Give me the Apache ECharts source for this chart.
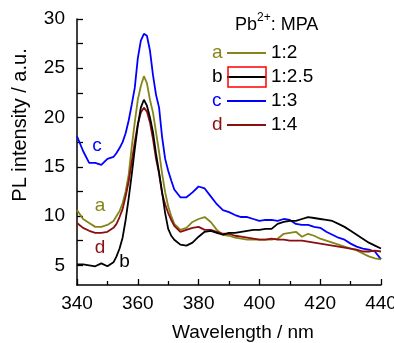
<!DOCTYPE html>
<html><head><meta charset="utf-8">
<script src="https://cdn.jsdelivr.net/npm/echarts@6/dist/echarts.min.js"></script>
<style>html,body{margin:0;padding:0;background:#fff}#c{width:394px;height:343px}</style>
</head><body><div id="c"></div>
<script>
const wavelength = [340,342,344,346,348,350,352,
  353,354,355,356,357,358,359,360,361,362,363,364,365,366,367,368,369,370,371,
  372,374,376,378,380,382,384,386,388,390,392,394,396,398,400,402,404,406,408,410,412,414,416,418,420,422,424,426,428,430,432,434,436,438,440];
const seriesA = [10.6,9.7,9.3,8.9,8.9,9.1,9.5,
  10.0,10.5,11.3,12.5,14.2,17.0,19.5,21.8,23.2,24.2,23.5,21.8,20.5,18.5,16.5,14.3,12.4,11.0,10.0,
  9.2,8.6,8.8,9.4,9.7,9.9,9.4,8.6,8.1,8.0,7.8,7.7,7.6,7.6,7.6,7.6,7.6,7.7,8.2,8.3,8.4,7.9,8.2,8.0,7.7,7.5,7.3,7.1,6.9,6.7,6.5,6.2,5.9,5.7,5.6];
const seriesB = [5.1,5.1,5.0,4.9,5.2,4.9,5.3,
  5.9,6.7,7.8,9.6,11.8,14.2,16.8,19.2,21.0,21.8,21.2,20.0,18.5,16.3,14.4,12.4,10.3,8.7,8.0,
  7.6,7.1,7.0,7.3,7.9,8.4,8.5,8.3,8.1,8.3,8.3,8.4,8.5,8.6,8.6,8.7,8.7,9.2,9.4,9.5,9.5,9.7,9.9,9.8,9.7,9.6,9.5,9.2,8.9,8.5,8.1,7.7,7.3,7.0,6.7];
const seriesC = [18.1,16.6,15.4,15.4,15.2,15.8,16.0,
  16.4,16.9,17.5,18.4,19.7,21.3,23.0,26.0,27.8,28.5,28.3,26.8,24.3,22.3,21.0,18.0,15.8,14.6,13.6,
  12.7,11.9,11.9,12.4,13.0,12.8,12.0,11.2,10.6,10.4,10.1,9.9,9.9,9.7,9.5,9.6,9.6,9.5,9.7,9.6,9.2,9.1,9.1,8.9,8.8,8.4,8.1,7.8,7.6,7.2,6.9,6.7,6.6,6.4,5.6];
const seriesD = [9.3,8.8,8.5,8.3,8.3,8.4,8.8,
  9.2,9.9,10.7,12.0,13.5,15.5,17.5,19.3,20.5,21.0,20.6,19.5,17.8,15.8,14.3,12.3,11.2,10.3,9.6,
  9.0,8.4,8.6,8.8,8.9,8.6,8.6,8.4,8.2,8.2,8.0,7.9,7.8,7.7,7.6,7.6,7.7,7.6,7.6,7.5,7.5,7.5,7.4,7.3,7.2,7.1,7.0,6.9,6.8,6.7,6.6,6.4,6.4,6.5,6.4];
const yTickLabels = [5,10,15,20,25,30];
const yTicks = [5,7.5,10,12.5,15,17.5,20,22.5,25,27.5,30];
const legendLetters = ['a','b','c','d'];
const legendRatios = ['1:2','1:2.5','1:3','1:4'];
const colors = ['#85851a','#000000','#0000ff','#8b0f0f'];
const allSeries = [seriesA, seriesB, seriesC, seriesD];
// annotation letter anchors (data coords)
const annot = [['a',347.6,11.0],['b',355.6,5.4],['c',346.6,17.1],['d',347.6,6.8]];

const FONT = 'Liberation Sans, Arial, sans-serif';
const chart = echarts.init(document.getElementById('c'));
const pair = s => wavelength.map((w,i)=>[w,s[i]]);
const drawOrder = [2,0,3,1];
const option = {
  animation:false,
  grid:{left:77,right:13,top:19,bottom:58,containLabel:false,outerBoundsMode:'none'},
  xAxis:{type:'value',min:340,max:440,interval:20,
    axisLine:{onZero:false,lineStyle:{color:'#000',width:1.5}},
    axisTick:{inside:true,length:6,lineStyle:{color:'#000',width:1.3}},
    minorTick:{show:true,splitNumber:2,length:4,lineStyle:{color:'#000',width:1.3}},
    splitLine:{show:false},
    axisLabel:{color:'#000',fontSize:19,fontFamily:FONT,margin:9}},
  yAxis:{type:'value',min:3,max:30,
    axisLine:{show:true,lineStyle:{color:'#000',width:1.5}},
    axisTick:{show:true,inside:true,length:6,customValues:yTicks,lineStyle:{color:'#000',width:1.3}},
    splitLine:{show:false},
    axisLabel:{color:'#000',fontSize:19,fontFamily:FONT,margin:12,customValues:yTickLabels}},
  series: drawOrder.map(i=>({type:'line',data:pair(allSeries[i]),showSymbol:false,
    lineStyle:{color:colors[i],width:1.8},itemStyle:{color:colors[i]},z:2+drawOrder.indexOf(i)})),
  graphic:[]
};
chart.setOption(option);

const g = [];
g.push({type:'text',x:20,y:125,rotation:Math.PI/2,style:{text:'PL intensity / a.u.',font:'20px '+FONT,fill:'#000',align:'center',verticalAlign:'middle'}});
g.push({type:'text',x:243,y:333,style:{text:'Wavelength / nm',font:'19px '+FONT,fill:'#000',align:'center',verticalAlign:'middle'}});
g.push({type:'text',x:235,y:34,style:{text:'{m|Pb}{s|2+}{m|: MPA}',verticalAlign:'bottom',
  rich:{m:{fontSize:18,fontFamily:FONT,fill:'#000',verticalAlign:'bottom',lineHeight:22},
        s:{fontSize:12,fontFamily:FONT,fill:'#000',verticalAlign:'top',lineHeight:22}}}});
const rowY = [53,77,101,125];
legendLetters.forEach((L,i)=>{
  g.push({type:'text',x:212,y:rowY[i],style:{text:L,font:'19px '+FONT,fill:colors[i],verticalAlign:'middle'}});
  g.push({type:'line',shape:{x1:227,y1:rowY[i],x2:266,y2:rowY[i]},style:{stroke:colors[i],lineWidth:2}});
  g.push({type:'text',x:271,y:rowY[i],style:{text:legendRatios[i],font:'19px '+FONT,fill:'#000',verticalAlign:'middle'}});
});
g.push({type:'rect',shape:{x:228,y:67,width:38,height:20},style:{fill:'none',stroke:'#ff0000',lineWidth:1.5}});
annot.forEach(a=>{
  const p = chart.convertToPixel({gridIndex:0},[a[1],a[2]]);
  const ci = legendLetters.indexOf(a[0]);
  g.push({type:'text',x:p[0],y:p[1],style:{text:a[0],font:'19px '+FONT,fill:colors[ci],align:'center',verticalAlign:'middle'}});
});
chart.setOption({graphic:g});
</script></body></html>
